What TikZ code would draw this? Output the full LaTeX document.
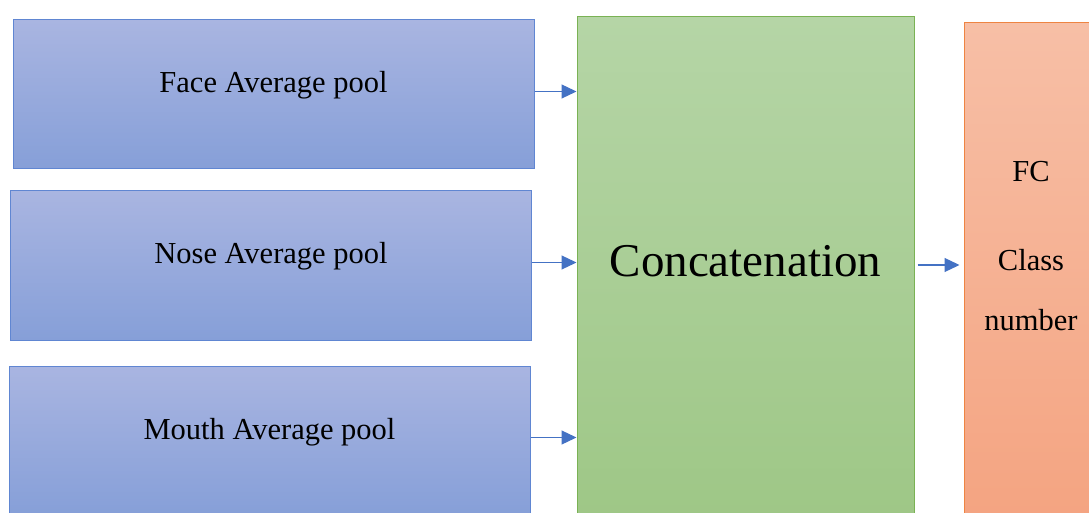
\documentclass[tikz,border=0pt]{standalone}
\usepackage{fontspec}
\setmainfont{Liberation Serif}
\usetikzlibrary{arrows.meta}
\definecolor{poolline}{RGB}{96,134,210}
\definecolor{pooltop}{RGB}{169,181,225}
\definecolor{poolbot}{RGB}{134,159,216}
\definecolor{catline}{RGB}{122,178,84}
\definecolor{cattop}{RGB}{181,213,166}
\definecolor{catbot}{RGB}{158,199,134}
\definecolor{fcline}{RGB}{238,132,66}
\definecolor{fctop}{RGB}{247,191,166}
\definecolor{fcbot}{RGB}{244,163,128}
\definecolor{arrowblue}{RGB}{68,114,196}
\begin{document}
\begin{tikzpicture}[x=1pt,y=1pt,
    poolbox/.style={draw=poolline, line width=1pt, top color=pooltop, bottom color=poolbot,
      minimum width=521pt, minimum height=149pt, inner sep=0pt},
    catbox/.style={draw=catline, line width=1pt, top color=cattop, bottom color=catbot,
      minimum width=337pt, minimum height=506pt, inner sep=0pt},
    fcbox/.style={draw=fcline, line width=1pt, top color=fctop, bottom color=fcbot,
      minimum width=134pt, minimum height=510pt, inner sep=0pt},
    txt/.style={font=\fontsize{30.5}{36}\selectfont, anchor=base, inner sep=0pt},
    arr/.style={draw=arrowblue, line width=1.2pt, -{Triangle[length=15pt,width=14pt]}}]
  \useasboundingbox (0,0) rectangle (1089,512);
  \clip (0,0) rectangle (1089,512);

  % the three pooling branches
  \node[poolbox] (face) at (273.5,417.5) {};
  \node[poolbox] (nose) at (271,246.5) {};
  \node[poolbox] (mouth) at (269.5,71.5) {};
  \node[txt] (facetxt) at ([yshift=1.5pt]face.center) {Face Average pool};
  \node[txt] (nosetxt) at ([yshift=1.5pt]nose.center) {Nose Average pool};
  \node[txt] (mouthtxt) at ([yshift=1.5pt]mouth.center) {Mouth Average pool};

  % concatenation and classifier
  \node[catbox] (concat) at (745.5,242) {};
  \node[txt, font=\fontsize{47}{56}\selectfont] (cattxt) at (concat.center |- 0,236) {Concatenation};
  \node[fcbox] (fc) at (1031,234) {};
  \node[txt] (fctxt) at (fc.center |- 0,330) {FC};
  \node[txt] (classtxt) at (fc.center |- 0,242) {Class};
  \node[txt] (numtxt) at (fc.center |- 0,182) {number};

  \foreach \b in {face,nose,mouth}
    \draw[arr] ([yshift=3pt]\b.east) -- ([yshift=3pt]\b.east -| concat.west);
  \draw[arr, shorten <=3pt, shorten >=4pt] (concat.east |- 0,247) -- (fc.west |- 0,247);
\end{tikzpicture}
\end{document}
